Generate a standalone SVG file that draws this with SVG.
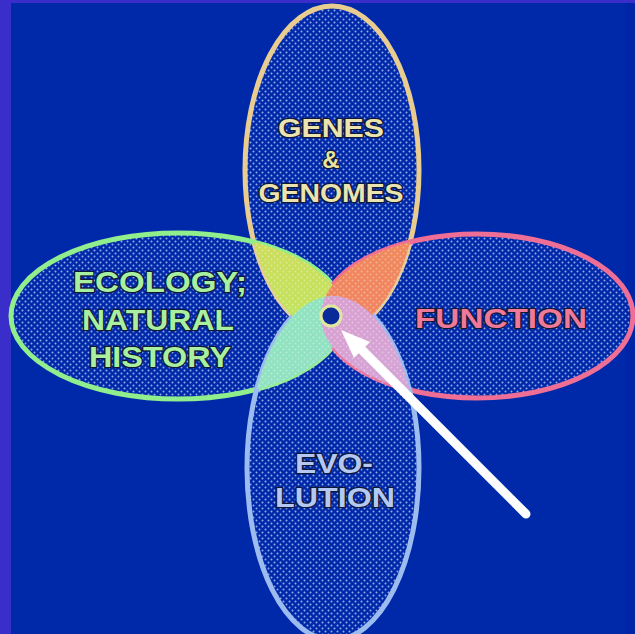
<svg xmlns="http://www.w3.org/2000/svg" width="635" height="634" viewBox="0 0 635 634">
<defs>
<pattern id="dots" width="6" height="6" patternUnits="userSpaceOnUse">
<circle cx="1.5" cy="1.5" r="1" fill="#c8d8ff" fill-opacity="0.75"/>
<circle cx="4.5" cy="4.5" r="1" fill="#c8d8ff" fill-opacity="0.75"/>
</pattern>
<pattern id="dots2" width="6" height="6" patternUnits="userSpaceOnUse">
<circle cx="1.5" cy="1.5" r="1" fill="#ffffff" fill-opacity="0.35"/>
<circle cx="4.5" cy="4.5" r="1" fill="#ffffff" fill-opacity="0.35"/>
</pattern>
<clipPath id="cGenes"><ellipse cx="332" cy="170" rx="87" ry="164"/></clipPath>
<clipPath id="cEvo"><ellipse cx="333" cy="468" rx="86" ry="172"/></clipPath>
<clipPath id="cEco"><ellipse cx="178" cy="316" rx="167" ry="83"/></clipPath>
<clipPath id="cFun"><ellipse cx="477" cy="316" rx="156" ry="82"/></clipPath>
<linearGradient id="gUL" x1="0" y1="0" x2="0" y2="1">
<stop offset="0" stop-color="#f0c850"/>
<stop offset="0.6" stop-color="#b8e860"/>
<stop offset="1" stop-color="#88e888"/>
</linearGradient>
<linearGradient id="gUR" x1="0" y1="0" x2="0" y2="1">
<stop offset="0" stop-color="#f09850"/>
<stop offset="1" stop-color="#f07070"/>
</linearGradient>
<linearGradient id="gLL" x1="0" y1="0" x2="1" y2="1">
<stop offset="0" stop-color="#88eca0"/>
<stop offset="1" stop-color="#98d8e0"/>
</linearGradient>
<linearGradient id="gLR" x1="0" y1="0" x2="1" y2="1">
<stop offset="0" stop-color="#e890b8"/>
<stop offset="1" stop-color="#c8b0e8"/>
</linearGradient>
</defs>
<style>
.lbl{font-family:"Liberation Sans",Arial,sans-serif;font-weight:bold;text-anchor:middle;paint-order:stroke;stroke:#101838;stroke-width:2.5;stroke-linejoin:round}
.shape{fill:url(#dots);stroke-width:5}
</style>
<rect x="0" y="0" width="635" height="634" fill="#3a2ecb"/>
<rect x="11" y="3" width="624" height="631" fill="#0029aa"/>
<rect x="625" y="3" width="10" height="631" fill="#0024a8"/>

<g id="genes">
<ellipse class="shape" cx="332" cy="170" rx="87" ry="164" stroke="#e8cc90"/>
<text class="lbl" font-size="25" fill="#ece4b0" x="331" y="137" textLength="106" lengthAdjust="spacingAndGlyphs">GENES</text>
<text class="lbl" font-size="24" fill="#ece4a0" x="331" y="168">&amp;</text>
<text class="lbl" font-size="25" fill="#ece4b0" x="331" y="202" textLength="145" lengthAdjust="spacingAndGlyphs">GENOMES</text>
</g>

<g id="ecology">
<ellipse class="shape" cx="178" cy="316" rx="167" ry="83" stroke="#90ee8c"/>
<text class="lbl" font-size="30" fill="#a8f0a0" x="160" y="292" textLength="174" lengthAdjust="spacingAndGlyphs">ECOLOGY;</text>
<text class="lbl" font-size="30" fill="#a8f0a0" x="158" y="330" textLength="152" lengthAdjust="spacingAndGlyphs">NATURAL</text>
<text class="lbl" font-size="30" fill="#a8f0a0" x="160" y="367" textLength="142" lengthAdjust="spacingAndGlyphs">HISTORY</text>
</g>

<g id="function">
<ellipse class="shape" cx="477" cy="316" rx="156" ry="82" stroke="#ee6e96"/>
<text class="lbl" font-size="28" fill="#f07898" x="501" y="328" textLength="172" lengthAdjust="spacingAndGlyphs">FUNCTION</text>
</g>

<g id="evolution">
<ellipse class="shape" cx="333" cy="468" rx="86" ry="172" stroke="#9cbcf0"/>
<text class="lbl" font-size="28" fill="#b4c8f4" x="334" y="473" textLength="78" lengthAdjust="spacingAndGlyphs">EVO-</text>
<text class="lbl" font-size="28" fill="#b4c8f4" x="335" y="507" textLength="120" lengthAdjust="spacingAndGlyphs">LUTION</text>
</g>

<g id="lobes">
<g clip-path="url(#cGenes)"><g clip-path="url(#cEco)"><rect x="0" y="0" width="635" height="634" fill="url(#gUL)"/><rect x="0" y="0" width="635" height="634" fill="url(#dots2)"/></g></g>
<g clip-path="url(#cGenes)"><g clip-path="url(#cFun)"><rect x="0" y="0" width="635" height="634" fill="url(#gUR)"/><rect x="0" y="0" width="635" height="634" fill="url(#dots2)"/></g></g>
<g clip-path="url(#cEvo)"><g clip-path="url(#cEco)"><rect x="0" y="0" width="635" height="634" fill="url(#gLL)"/><rect x="0" y="0" width="635" height="634" fill="url(#dots2)"/></g></g>
<g clip-path="url(#cEvo)"><g clip-path="url(#cFun)"><rect x="0" y="0" width="635" height="634" fill="url(#gLR)"/><rect x="0" y="0" width="635" height="634" fill="url(#dots2)"/></g></g>
</g>

<g id="center">
<circle cx="331" cy="316" r="10" fill="#0a2a9a" stroke="#e0e8a0" stroke-width="3"/>
</g>

<g id="connectors">
<line x1="526" y1="514" x2="358" y2="346" stroke="#ffffff" stroke-width="9" stroke-linecap="round"/>
<polygon points="341,330 370,342 354,358" fill="#ffffff"/>
</g>
</svg>
